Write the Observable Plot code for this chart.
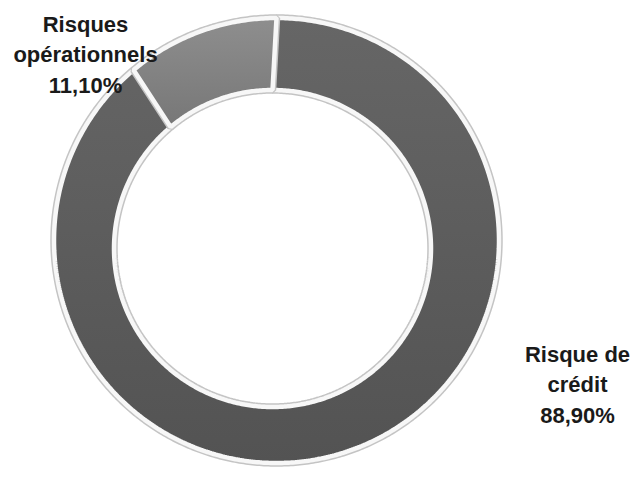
<!DOCTYPE html>
<html>
<head>
<meta charset="utf-8">
<script src="https://cdn.jsdelivr.net/npm/d3@7"></script>
<script src="https://cdn.jsdelivr.net/npm/@observablehq/plot@0.6"></script>
<style>
  html, body { margin: 0; padding: 0; background: #fff; }
  #chart svg { display: block; }
</style>
</head>
<body>
<div id="chart"></div>
<script>
// ---- Data ----
const categories = ["Risque de crédit", "Risques opérationnels"];
const shares = [88.9, 11.1];
const valueLabels = ["88,90%", "11,10%"];
const labelTexts = ["Risque de\ncrédit\n88,90%", "Risques\nopérationnels\n11,10%"];

// ---- Geometry / style ----
const W = 630, H = 477;
const cx = 276, cy = 240;            // outer ring centre in pixels
const R_OUT = 222.5, R_IN = 158.5;
const innerOffset = {x: -4, y: -8};  // inner edge centre offset (y up)
const gradIds = ["gCredit", "gOper"];
const gradStops = [["#666666", "#535353"], ["#8e8e8e", "#777777"]];

const pie = d3.pie().sort(null).value(d => d.share);
const table = categories.map((c, i) => ({category: c, share: shares[i], label: labelTexts[i]}));
const arcs = pie(table);

function ringPoints(a) {
  const pts = [];
  const n = Math.max(8, Math.ceil((a.endAngle - a.startAngle) / 0.01));
  for (let k = 0; k <= n; k++) {
    const t = a.startAngle + (a.endAngle - a.startAngle) * k / n;
    pts.push({x: R_OUT * Math.sin(t), y: R_OUT * Math.cos(t)});
  }
  for (let k = n; k >= 0; k--) {
    const t = a.startAngle + (a.endAngle - a.startAngle) * k / n;
    pts.push({x: innerOffset.x + R_IN * Math.sin(t), y: innerOffset.y + R_IN * Math.cos(t)});
  }
  return pts;
}

// label anchor offsets relative to ring centre (pixels, y up)
const labelPos = [{x: 301, y: -142}, {x: -191, y: 188}];
const labelData = arcs.map((a, i) => ({text: a.data.label, x: labelPos[i].x, y: labelPos[i].y}));

function defsMark() {
  const ns = "http://www.w3.org/2000/svg";
  const defs = document.createElementNS(ns, "defs");
  gradIds.forEach((id, i) => {
    const g = document.createElementNS(ns, "linearGradient");
    g.setAttribute("id", id);
    g.setAttribute("x1", "0"); g.setAttribute("y1", "0");
    g.setAttribute("x2", "0"); g.setAttribute("y2", "1");
    [0, 1].forEach(j => {
      const s = document.createElementNS(ns, "stop");
      s.setAttribute("offset", j === 0 ? "0%" : "100%");
      s.setAttribute("stop-color", gradStops[i][j]);
      g.appendChild(s);
    });
    defs.appendChild(g);
  });
  return defs;
}

const sliceMarks = arcs.flatMap((a, i) => {
  const pts = ringPoints(a);
  return [
    Plot.line(pts, {x: "x", y: "y", curve: "linear-closed", fill: "none", stroke: "#c4c4c4", strokeWidth: 7.5, strokeLinejoin: "miter"}),
    Plot.line(pts, {x: "x", y: "y", curve: "linear-closed", fill: `url(#${gradIds[i]})`, stroke: "#f7f7f7", strokeWidth: 4.5, strokeLinejoin: "miter"})
  ];
});

const chart = Plot.plot({
  width: W,
  height: H,
  margin: 0,
  x: {domain: [-cx, W - cx], range: [0, W], axis: null},
  y: {domain: [-(H - cy), cy], range: [H, 0], axis: null},
  style: {background: "#fff"},
  marks: [
    defsMark,
    ...sliceMarks,
    Plot.text(labelData, {
      x: "x", y: "y", text: "text",
      textAnchor: "middle", lineAnchor: "middle", lineHeight: 1.38,
      fontSize: 22, fontWeight: "bold", fontFamily: "Liberation Sans, Arial, sans-serif",
      fill: "#1a1a1a"
    })
  ]
});
document.getElementById("chart").appendChild(chart);
</script>
</body>
</html>
